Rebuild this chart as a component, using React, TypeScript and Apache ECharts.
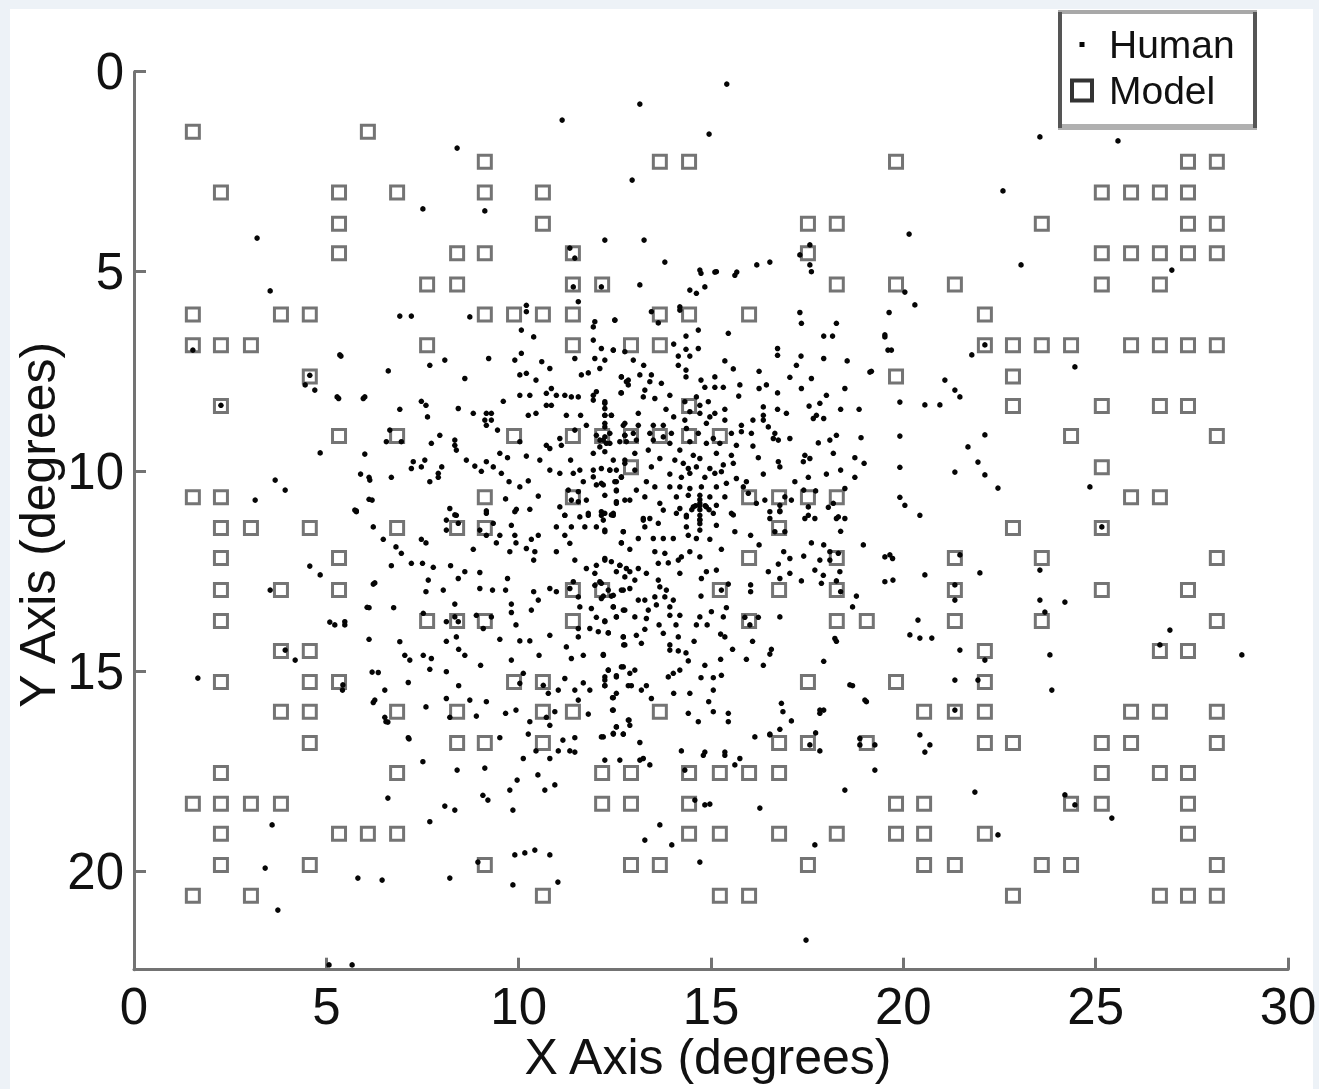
import React, { useEffect, useRef } from "react";
import * as echarts from "echarts";

const xTicks = [0, 5, 10, 15, 20, 25, 30];
const yTicks = [0, 5, 10, 15, 20];

// Model fixations: each row is [y, x, x, x...]
const modelRows: number[][] = [
  [1.5, 1.53, 6.08],
  [2.25, 9.12, 13.67, 14.43, 19.81, 27.4, 28.15],
  [3.02, 2.26, 5.33, 6.84, 9.12, 10.63, 25.16, 25.92, 26.67, 27.4],
  [3.8, 5.33, 10.63, 17.52, 18.27, 23.6, 27.4, 28.15],
  [4.54, 5.33, 8.4, 9.12, 11.41, 17.52, 25.16, 25.92, 26.67, 27.4, 28.15],
  [5.32, 7.62, 8.4, 11.41, 12.17, 18.27, 19.81, 21.34, 25.16, 26.67],
  [6.07, 1.53, 3.82, 4.57, 9.12, 9.88, 10.63, 11.41, 13.67, 14.43, 15.99, 22.12],
  [6.84, 1.53, 2.26, 3.04, 7.62, 11.41, 12.92, 13.67, 22.12, 22.85, 23.6, 24.36, 25.92, 26.67, 27.4, 28.15],
  [7.62, 4.57, 19.81, 22.85],
  [8.36, 2.26, 14.43, 22.85, 25.16, 26.67, 27.4],
  [9.11, 5.33, 6.84, 9.88, 11.41, 12.17, 12.92, 13.67, 14.43, 15.23, 24.36, 28.15],
  [9.89, 12.92, 25.16],
  [10.64, 1.53, 2.26, 9.12, 11.41, 15.99, 16.77, 17.52, 18.27, 25.92, 26.67],
  [11.41, 2.26, 3.04, 4.57, 6.84, 8.4, 9.12, 16.77, 22.85, 25.16],
  [12.16, 2.26, 5.33, 15.99, 18.27, 21.34, 23.6, 28.15],
  [12.96, 2.26, 3.82, 5.33, 11.41, 12.17, 15.23, 16.77, 18.27, 21.34, 25.16, 27.4],
  [13.73, 2.26, 7.62, 8.4, 9.12, 11.41, 15.99, 18.27, 19.05, 21.34, 23.6, 28.15],
  [14.48, 3.82, 4.57, 22.12, 26.67, 27.4],
  [15.26, 2.26, 4.57, 5.33, 9.88, 10.63, 17.52, 19.81, 22.12],
  [16.0, 3.82, 4.57, 6.84, 8.4, 10.63, 11.41, 13.67, 20.54, 21.34, 22.12, 25.92, 26.67, 28.15],
  [16.78, 4.57, 8.4, 9.12, 10.63, 16.77, 17.52, 19.05, 22.12, 22.85, 25.16, 25.92, 28.15],
  [17.53, 2.26, 6.84, 12.17, 12.92, 14.43, 15.23, 15.99, 16.77, 25.16, 26.67, 27.4],
  [18.3, 1.53, 2.26, 3.04, 3.82, 12.17, 12.92, 14.43, 19.81, 20.54, 24.36, 25.16, 27.4],
  [19.05, 2.26, 5.33, 6.08, 6.84, 14.43, 15.23, 16.77, 18.27, 19.81, 20.54, 22.12, 27.4],
  [19.83, 2.26, 4.57, 9.12, 12.92, 13.67, 17.52, 20.54, 21.34, 23.6, 24.36, 28.15],
  [20.6, 1.53, 3.04, 10.63, 15.23, 15.99, 22.85, 26.67, 27.4, 28.15],
];

// Human fixations, [x, y] in degrees, region by region
const humanUpperLeft: number[][] = [
[11.42,5.38],[12.15,5.38],[10.2,5.84],[10.2,6.0],[11.55,5.75],[8.73,6.13],[6.91,6.11],[7.21,6.11],[11.98,6.25],[11.94,6.38],[12.5,6.21],[10.07,6.46],[10.39,6.63],[11.94,6.71],[12.15,6.92],[12.46,6.96],[12.76,7.0],[5.38,7.11],[10.07,7.04],[9.9,7.21],[8.08,7.21],[9.22,7.17],[7.69,7.34],[11.46,7.17],[11.98,7.17],[12.24,7.21],[10.6,7.25],[10.81,7.42],[6.61,7.48],[11.81,7.53],[11.63,7.58],[12.11,7.42],[8.6,7.67],[10.03,7.58],[10.2,7.54],[10.45,7.71],[12.67,7.63],[12.8,7.75],[5.32,8.17],[5.96,8.17],[7.47,8.24],[7.59,8.34],[6.91,8.44],[8.43,8.42],[7.63,8.63],[9.6,8.24],[10.03,8.09],[10.29,8.09],[10.72,8.04],[10.85,7.92],[10.98,8.09],[11.2,8.09],[11.37,8.13],[11.55,8.13],[11.94,8.09],[12.02,8.0],[11.94,8.21],[12.67,8.03],[12.24,8.25],[12.24,8.42],[10.72,8.34],[10.85,8.34],[8.82,8.54],[9.16,8.54],[9.29,8.54],[9.12,8.71],[9.29,8.71],[9.16,8.84],[10.25,8.59],[10.45,8.54],[11.24,8.59],[11.61,8.59],[12.24,8.59],[12.41,8.59],[12.24,8.79],[11.76,8.84],[12.76,8.79],[6.65,8.96],[6.56,9.25],[6.95,9.25],[9.45,8.96],[7.95,9.09],[7.73,9.29],[8.34,9.21],[8.34,9.34],[8.38,9.46],[10.03,9.25],[11.07,9.17],[11.11,9.34],[10.72,9.34],[10.81,9.42],[11.46,8.96],[12.02,9.09],[12.11,9.21],[12.24,9.13],[12.37,9.04],[12.11,9.38],[12.28,9.29],[12.24,9.5],[11.94,9.54],[12.76,9.09],[12.8,9.25],[6.0,9.56],[9.51,9.54],[9.71,9.65],[10.2,9.61],[10.55,9.71],[11.35,9.71],[8.64,9.71],[9.16,9.75],[8.86,9.86],[9.03,9.99],[9.34,9.88],[9.55,10.04],[7.26,9.75],[7.47,9.88],[7.56,9.71],[7.21,9.92],[8.0,9.88],[7.91,10.04],[5.89,10.06],[6.11,10.14],[6.69,10.14],[7.91,10.14],[7.69,10.25],[10.81,9.96],[11.07,10.04],[11.42,10.04],[11.59,9.96],[11.94,9.96],[11.94,10.13],[11.68,10.25],[12.15,9.92],[12.37,9.96],[12.54,9.96],[12.46,9.71],[12.76,9.79],[12.67,10.13],[12.15,10.29],[12.02,10.33],[12.5,10.25],[12.54,10.46],[9.75,10.25],[10.03,10.38],[10.25,10.23],[6.11,10.69],[5.78,10.98],[10.51,10.61],[9.66,10.68],[9.16,10.98],[8.21,10.92],[8.38,11.09],[9.94,10.94],[10.29,10.94],[11.07,10.88],[11.2,11.09],[11.29,10.46],[11.55,10.5],[11.37,10.71],[11.55,10.75],[11.76,10.71],[12.24,10.59],[12.54,10.75],[12.76,10.71],[11.81,11.04],[12.15,11.0],[12.46,11.04],[11.59,11.13],
];
const humanUpperRight: number[][] = [
[14.74,5.04],[15.14,5.0],[15.62,5.09],[17.61,5.0],[13.15,5.33],[14.84,5.38],[14.62,5.54],[13.45,6.0],[13.63,6.28],[12.5,6.21],[14.19,5.88],[14.19,5.96],[17.31,6.02],[17.35,6.29],[18.26,6.29],[19.63,6.02],[14.67,6.46],[14.35,6.61],[17.93,6.61],[18.16,6.61],[19.52,6.63],[15.45,6.54],[14.03,6.81],[14.35,6.94],[14.67,6.92],[16.73,6.92],[16.73,7.09],[12.46,6.96],[19.69,6.96],[12.98,7.21],[13.25,7.34],[14.15,7.11],[14.45,7.11],[14.15,7.34],[17.34,7.11],[17.22,7.34],[17.93,7.17],[18.54,7.23],[15.36,7.23],[15.58,7.43],[16.25,7.49],[19.17,7.49],[14.35,7.46],[14.35,7.63],[17.05,7.64],[17.61,7.67],[15.1,7.63],[14.74,7.71],[12.67,7.63],[12.85,7.71],[13.15,7.58],[12.85,7.83],[13.45,7.58],[13.41,7.75],[13.71,7.79],[15.1,7.89],[15.32,7.89],[14.84,7.89],[15.75,7.83],[15.72,8.11],[16.25,7.92],[16.44,7.83],[16.73,8.03],[17.35,7.92],[18.48,7.92],[12.66,8.03],[13.28,7.96],[13.24,8.13],[13.93,8.09],[13.54,8.17],[18.0,8.09],[17.83,8.29],[14.62,8.13],[14.32,8.25],[14.71,8.34],[14.93,8.25],[13.83,8.44],[14.03,8.63],[15.36,8.44],[15.1,8.54],[16.36,8.38],[16.73,8.44],[17.55,8.36],[18.37,8.44],[18.85,8.44],[16.96,8.54],[16.36,8.59],[17.74,8.59],[17.93,8.67],[17.66,8.67],[12.24,8.29],[12.24,8.59],[12.41,8.59],[13.11,8.54],[14.45,8.5],[14.71,8.54],[14.97,8.63],[14.32,8.71],[15.36,8.71],[15.79,8.84],[16.09,8.71],[16.36,8.71],[12.72,8.84],[13.11,8.84],[13.5,8.84],[13.76,8.84],[14.36,8.92],[14.88,8.79],[15.79,9.0],[15.53,9.04],[16.05,9.04],[16.49,8.88],[16.66,9.04],[17.05,9.17],[18.26,9.09],[18.9,9.15],[12.24,8.88],[12.2,9.21],[12.37,9.29],[12.76,9.09],[12.98,9.04],[13.06,9.21],[12.63,9.25],[13.41,9.04],[13.5,9.21],[13.97,9.04],[13.93,9.29],[13.76,9.13],[14.67,9.04],[14.45,9.25],[15.06,9.17],[15.23,9.29],[14.88,9.29],[16.75,9.21],[16.62,9.17],[17.79,9.28],[18.09,9.21],[15.66,9.34],[16.09,9.36],[16.23,9.65],[17.44,9.59],[17.4,9.75],[17.57,9.67],[18.18,9.54],[18.74,9.65],[18.98,9.79],[16.75,9.75],[16.79,9.88],[14.19,9.46],[13.37,9.46],[13.02,9.54],[13.67,9.67],[14.06,9.71],[14.28,9.79],[14.54,9.59],[14.71,9.67],[15.14,9.54],[15.53,9.59],[14.41,9.92],[14.62,9.88],[14.97,9.92],[15.32,9.83],[15.58,9.79],[13.45,9.88],[12.37,9.96],[13.02,9.96],[12.76,9.71],[13.93,10.06],[14.45,10.04],[15.1,10.04],[15.27,10.0],[16.36,10.06],[17.53,10.14],[18.0,10.06],[18.37,9.96],[18.74,10.14],[12.67,10.14],[13.32,10.25],[14.23,10.14],[14.84,10.14],[15.92,10.25],[15.66,10.17],[17.18,10.25],[12.2,10.33],[12.54,10.25],[12.54,10.48],[13.06,10.46],[13.54,10.38],[13.93,10.38],[14.19,10.38],[14.45,10.42],[14.75,10.38],[15.14,10.38],[15.4,10.29],[15.84,10.38],[15.97,10.54],[17.41,10.46],[17.72,10.48],[18.48,10.42],[13.28,10.63],[14.1,10.63],[14.41,10.59],[14.71,10.59],[14.97,10.63],[15.36,10.63],[16.4,10.71],[16.18,10.79],[16.92,10.63],[17.09,10.71],[16.79,10.84],[12.54,10.79],[12.89,10.71],[13.67,10.79],[14.71,10.79],[14.54,10.88],[14.88,10.88],[14.19,10.92],[15.14,10.84],[18.18,10.79],[18.05,10.89],[17.53,10.88],[16.53,11.0],[16.79,10.98],[12.24,11.04],[13.76,10.96],[14.1,11.04],[14.36,11.09],[14.71,11.09],[15.06,11.04],[15.53,11.04],[13.24,11.17],[13.41,11.17],[17.53,11.09],[18.31,11.13],
[14.71,10.7],[14.71,10.85],[14.71,10.95],[14.71,11.2],[14.71,11.3],[14.6,10.85],[14.85,10.85],[14.5,10.95],[14.95,10.95],
];
const humanLowerLeft: number[][] = [
[5.78,11.0],[8.34,11.08],[9.16,11.04],[9.9,11.0],[11.2,11.09],[11.81,11.09],[12.15,11.09],[12.46,11.09],[6.22,11.38],[8.12,11.21],[8.43,11.29],[8.12,11.46],[9.34,11.29],[8.99,11.46],[9.16,11.59],[9.81,11.34],[9.51,11.59],[10.98,11.38],[11.37,11.38],[11.72,11.38],[12.02,11.38],[12.24,11.46],[6.48,11.69],[7.47,11.69],[7.59,11.78],[6.81,11.88],[9.9,11.59],[10.33,11.69],[10.51,11.59],[11.2,11.59],[11.33,11.79],[9.42,11.78],[9.93,11.78],[12.67,11.78],[12.72,11.5],[8.82,11.94],[9.77,12.0],[10.42,12.0],[10.98,12.0],[10.2,11.92],[6.95,12.04],[6.69,12.35],[7.21,12.29],[7.5,12.29],[7.78,12.39],[8.23,12.35],[10.39,12.21],[11.46,12.21],[12.24,12.17],[12.02,12.34],[11.76,12.42],[12.41,12.25],[12.63,12.34],[12.8,12.42],[8.6,12.5],[8.43,12.67],[8.99,12.52],[9.71,12.67],[11.98,12.54],[12.54,12.5],[7.65,12.71],[6.22,12.81],[11.42,12.75],[11.33,12.92],[11.98,12.84],[12.11,12.75],[12.76,12.63],[8.99,12.92],[9.32,12.96],[9.66,12.96],[8.04,12.96],[7.59,13.0],[10.39,13.0],[10.81,12.92],[10.98,13.0],[11.55,13.13],[12.15,13.17],[12.46,13.09],[12.72,12.96],[9.81,13.31],[8.34,13.31],[10.51,13.21],[6.11,13.4],[6.75,13.4],[11.59,13.38],[11.89,13.42],[12.46,13.38],[12.76,13.46],[10.33,13.46],[9.81,13.52],[7.52,13.54],[8.34,13.63],[8.9,13.59],[9.29,13.63],[12.54,13.63],[12.02,13.64],[12.24,13.75],[5.48,13.75],[5.22,13.83],[8.12,13.75],[8.43,13.75],[9.93,13.83],[9.08,13.92],[11.55,13.92],[11.85,13.92],[12.07,14.0],[12.33,14.03],[10.81,14.09],[11.55,14.13],[12.72,14.13],[6.11,14.19],[6.91,14.25],[8.12,14.24],[8.38,14.13],[9.51,14.19],[10.03,14.23],[10.29,14.23],[12.73,14.33],[11.24,14.38],[8.44,14.44],[7.04,14.59],[7.17,14.71],[7.52,14.59],[7.73,14.67],[8.6,14.59],[9.81,14.71],[10.53,14.59],[11.37,14.67],[11.68,14.59],[12.2,14.59],[9.01,14.84],[7.69,14.94],[8.12,15.0],[6.35,15.02],[12.33,14.96],[12.72,14.88],[12.54,15.13],[12.24,15.13],[10.12,15.04],[11.2,15.17],[7.13,15.27],[8.44,15.35],[10.64,15.34],[10.77,15.54],[11.03,15.46],[11.46,15.46],[11.85,15.46],[11.68,15.28],[10.03,15.29],[5.42,15.46],[12.24,15.35],[12.85,15.35],[12.46,15.65],[11.55,15.71],[8.12,15.67],[8.73,15.71],[9.16,15.75],[6.22,15.77],[7.59,15.88],[9.93,15.96],[9.66,16.04],[10.94,16.0],[11.81,16.06],[12.46,15.96],[8.9,16.11],[8.21,16.14],[10.72,16.14],[6.55,16.25],[10.29,16.25],[12.85,16.21],[12.54,16.38],[10.25,16.56],[12.46,16.56],[12.2,16.63],[12.72,16.56],[10.81,16.34],[7.13,16.65],[9.51,16.65],[11.46,16.65],[10.45,16.98],[11.03,16.98],[11.33,16.98],[10.12,17.17],[10.81,17.17],
];
const humanLowerRight: number[][] = [
[12.41,11.08],[13.24,11.21],[13.63,11.29],[12.2,11.21],[13.28,11.38],[14.36,11.13],[14.71,11.21],[14.36,11.38],[14.71,11.46],[15.14,11.34],[15.58,11.08],[16.53,11.17],[16.79,11.0],[17.44,11.17],[17.7,11.17],[18.26,11.17],[18.48,11.17],[12.24,11.5],[12.72,11.5],[14.41,11.59],[14.62,11.67],[14.97,11.69],[15.62,11.5],[16.03,11.59],[16.66,11.5],[16.92,11.5],[18.37,11.49],[13.11,11.67],[13.5,11.67],[13.76,11.67],[14.02,11.67],[12.67,11.78],[16.25,11.83],[17.61,11.78],[17.93,11.83],[18.96,11.83],[12.89,11.94],[15.27,11.94],[16.89,12.0],[13.54,12.0],[13.8,12.04],[14.45,12.0],[18.09,12.0],[18.31,12.04],[12.24,12.21],[14.23,12.13],[14.71,12.13],[17.05,12.17],[17.41,12.11],[19.52,12.13],[19.72,12.17],[13.63,12.29],[13.89,12.28],[14.15,12.21],[17.83,12.21],[18.09,12.21],[12.63,12.34],[13.11,12.42],[16.75,12.31],[15.14,12.46],[14.88,12.5],[17.7,12.46],[12.89,12.5],[13.32,12.54],[14.19,12.54],[16.49,12.5],[17.05,12.54],[18.35,12.5],[14.75,12.67],[16.79,12.67],[17.92,12.59],[13.02,12.71],[13.63,12.71],[17.35,12.73],[17.87,12.79],[18.26,12.73],[19.52,12.75],[15.45,12.81],[15.27,12.96],[16.03,12.83],[16.03,13.0],[12.15,12.79],[12.33,12.96],[12.67,12.96],[12.89,12.92],[13.67,12.88],[13.84,12.96],[12.2,13.11],[12.41,13.11],[13.54,13.13],[13.8,13.13],[14.02,13.21],[14.74,13.11],[18.37,13.0],[18.78,13.11],[13.11,13.21],[13.28,13.21],[13.58,13.33],[12.46,13.38],[12.72,13.46],[13.93,13.38],[15.4,13.4],[15.01,13.5],[18.68,13.38],[13.37,13.46],[14.19,13.59],[13.93,13.59],[12.54,13.63],[13.02,13.63],[13.32,13.67],[14.71,13.63],[15.32,13.63],[15.88,13.64],[16.23,13.64],[16.79,13.63],[12.24,13.73],[13.65,13.83],[14.09,13.83],[14.62,13.83],[14.9,13.83],[16.01,13.83],[13.28,13.94],[12.33,14.03],[13.76,14.04],[15.25,14.06],[15.36,14.13],[14.15,14.13],[14.56,14.24],[16.08,14.24],[18.22,14.17],[18.26,14.24],[12.72,14.13],[13.06,14.09],[12.76,14.33],[13.19,14.29],[13.93,14.33],[15.56,14.44],[16.57,14.44],[13.93,14.46],[14.15,14.48],[14.35,14.53],[12.2,14.57],[16.53,14.56],[15.25,14.69],[14.41,14.73],[15.92,14.69],[17.93,14.74],[14.84,14.84],[16.36,14.84],[12.67,14.88],[12.33,14.96],[13.02,14.96],[14.19,14.96],[14.02,15.04],[13.89,15.13],[15.27,15.09],[12.54,15.1],[12.89,15.04],[12.24,15.21],[14.74,15.15],[15.06,15.15],[12.24,15.35],[12.93,15.35],[13.32,15.35],[13.19,15.46],[18.68,15.35],[14.03,15.54],[14.45,15.54],[15.06,15.46],[12.54,15.54],[12.44,15.65],[13.45,15.67],[14.94,15.75],[16.83,15.79],[19.04,15.75],[12.44,15.96],[14.41,16.04],[15.06,16.0],[15.45,16.04],[17.93,15.96],[17.83,16.04],[12.87,16.21],[14.67,16.25],[15.45,16.25],[17.09,16.23],[12.89,16.34],[12.54,16.38],[12.46,16.54],[12.72,16.56],[12.15,16.63],[16.14,16.63],[16.53,16.56],[16.79,16.44],[17.72,16.53],[18.87,16.67],[13.15,16.77],[14.23,16.98],[14.8,17.09],[15.36,17.09],[17.83,16.98],[13.24,17.17],[15.75,17.17],
];
const humanOuter: number[][] = [
[13.15,0.81],[15.41,0.31],[11.13,1.21],[14.95,1.56],[8.4,1.91],[23.55,1.63],[25.58,1.73],[12.95,2.71],[22.59,2.98],[7.51,3.43],[9.12,3.48],[3.2,4.16],[12.24,4.21],[13.26,4.21],[20.15,4.06],[23.06,4.83],[3.54,5.48],[11.33,4.41],[11.46,4.66],[13.8,4.76],[17.57,4.33],[17.31,4.58],[17.57,4.83],[14.71,4.96],[15.1,5.01],[15.67,5.01],[16.19,4.83],[16.53,4.76],[14.45,5.46],[20.04,5.51],[20.3,5.83],[26.98,4.96],[5.35,7.08],[4.45,7.83],[4.7,7.96],[5.28,8.13],[6.0,8.13],[24.46,7.38],[21.78,7.08],[22.12,6.83],[19.52,6.58],[19.6,6.96],[19.13,7.51],[21.08,7.71],[21.34,7.96],[21.47,8.13],[19.91,8.26],[20.56,8.33],[20.95,8.33],[19.91,9.11],[22.12,9.08],[21.68,9.38],[21.34,10.01],[21.94,9.76],[22.12,10.08],[22.46,10.41],[19.91,9.89],[19.91,10.64],[20.04,10.84],[20.43,11.09],[24.85,10.38],[25.16,11.38],[3.15,10.71],[3.67,10.21],[3.93,10.46],[4.84,9.53],[5.74,10.96],[6.13,10.21],[6.19,10.71],[4.57,12.36],[4.84,12.58],[6.26,12.78],[3.54,12.96],[6.06,13.39],[5.09,13.76],[5.48,13.83],[3.93,14.46],[4.19,14.71],[1.66,15.16],[5.43,15.33],[6.19,15.01],[6.52,15.46],[6.52,16.14],[6.26,15.71],[6.6,16.26],[7.15,16.68],[7.51,17.25],[6.6,18.16],[3.59,18.83],[7.69,18.75],[8.08,18.36],[8.34,18.46],[8.4,17.46],[9.12,17.41],[9.07,18.09],[9.2,18.21],[9.77,17.96],[9.96,17.71],[9.85,18.46],[10.5,17.58],[10.68,17.96],[10.94,17.83],[11.15,16.71],[11.46,17.01],[12.24,17.21],[12.63,17.21],[13.15,17.21],[13.41,17.33],[14.32,17.46],[14.58,18.21],[14.97,18.31],[14.84,17.01],[15.36,17.01],[15.62,17.33],[16.27,18.41],[13.28,19.21],[13.67,18.83],[13.98,19.33],[14.71,19.76],[9.9,19.58],[10.16,19.53],[10.42,19.46],[10.81,19.58],[11.02,20.26],[9.85,20.33],[8.94,19.76],[8.21,20.16],[5.82,20.16],[6.45,20.21],[3.41,19.91],[3.74,20.96],[5.67,22.33],[5.07,22.33],[17.47,21.71],[17.7,19.33],[18.48,17.96],[19.26,17.46],[18.61,15.33],[19.0,15.71],[17.83,15.96],[16.87,16.0],[17.57,16.83],[16.53,16.58],[18.87,16.83],[19.26,16.83],[20.43,16.58],[20.69,16.83],[20.56,17.01],[21.34,15.21],[21.94,15.21],[22.12,14.71],[21.34,15.96],[21.47,14.46],[20.17,14.08],[20.43,14.16],[20.74,14.16],[20.38,13.71],[21.34,12.83],[21.34,13.21],[20.56,12.58],[19.65,12.08],[19.73,12.71],[21.99,12.53],[21.47,12.08],[23.55,12.46],[23.55,13.21],[23.68,13.51],[24.2,13.26],[23.81,14.58],[23.86,15.46],[26.67,14.33],[26.93,13.96],[28.8,14.58],[22.46,19.08],[21.86,18.01],[24.2,18.08],[24.46,18.33],[25.42,18.66],[14.84,18.33],[1.53,6.96],[2.26,8.34],[4.57,7.59],
];

const FONT = '"Liberation Sans", Arial, sans-serif';
const INK = "#111111";

export default function App() {
  const ref = useRef<HTMLDivElement>(null);
  useEffect(() => {
    document.body.style.margin = "0";
    document.body.style.background = "#edf2f7";
    const chart = echarts.init(ref.current!, undefined, { renderer: "svg" });
    const modelData: number[][] = [];
    modelRows.forEach((r) => r.slice(1).forEach((x) => modelData.push([x, r[0]])));
    const humanData = [...humanUpperLeft, ...humanUpperRight, ...humanLowerLeft, ...humanLowerRight, ...humanOuter];
    const axisLine = { show: true, onZero: false, lineStyle: { color: "#737373", width: 3 } };
    const axisTick = { inside: true, length: 12, lineStyle: { color: "#737373", width: 3 } };
    chart.setOption({
      animation: false,
      backgroundColor: "transparent",
      textStyle: { fontFamily: FONT },
      grid: { left: 134, top: 71.7, width: 1154, height: 898, outerBoundsMode: "none", containLabel: false },
      xAxis: {
        type: "value", position: "bottom", min: 0, max: 30, interval: 5, splitLine: { show: false },
        axisLine, axisTick,
        axisLabel: { color: INK, fontSize: 51, margin: 11, fontFamily: FONT, customValues: xTicks },
        name: "X Axis (degrees)", nameLocation: "middle", nameGap: 62, nameMoveOverlap: false,
        nameTextStyle: { color: INK, fontSize: 50, fontFamily: FONT, padding: [0, 6, 0, 0] },
      },
      yAxis: {
        type: "value", inverse: true, min: 0, max: 22.45, splitLine: { show: false },
        axisLine,
        axisTick: { ...axisTick, customValues: yTicks },
        axisLabel: { color: INK, fontSize: 51, margin: 10, fontFamily: FONT, customValues: yTicks },
        name: "Y Axis (degrees)", nameLocation: "middle", nameGap: 71, nameMoveOverlap: false,
        nameTextStyle: { color: INK, fontSize: 50, fontFamily: FONT, padding: [0, 8, 0, 0] },
      },
      legend: {
        show: true, orient: "vertical", left: 1057, top: 11,
        padding: [14, 22, 17, 13], itemGap: 7, itemWidth: 20, itemHeight: 20,
        selectedMode: false, backgroundColor: "#fff",
        textStyle: { color: INK, fontSize: 39, fontFamily: FONT, padding: [0, 0, 0, 12] },
        data: [
          { name: "Human", icon: "path://M0 0M20 20M7.5 7.5h5v5h-5z" },
          { name: "Model", icon: "rect", itemStyle: { color: "#ffffff", borderColor: "#333333", borderWidth: 4 } },
        ],
      },
      series: [
        {
          name: "Model", type: "scatter", symbol: "rect", symbolSize: 13, z: 2,
          itemStyle: { color: "transparent", borderColor: "#747474", borderWidth: 3, opacity: 1 },
          data: modelData,
        },
        {
          name: "Human", type: "scatter", symbol: "circle", symbolSize: 5.5, z: 3,
          itemStyle: { color: "#050505", opacity: 1 },
          data: humanData,
        },
      ],
      graphic: [
        { type: "rect", z: 100, silent: true, shape: { x: 1058, y: 10, width: 199, height: 4 }, style: { fill: "#a8a8a8" } },
        { type: "rect", z: 100, silent: true, shape: { x: 1058, y: 124, width: 199, height: 6 }, style: { fill: "#b0b0b0" } },
        { type: "rect", z: 101, silent: true, shape: { x: 1058, y: 12, width: 4, height: 116 }, style: { fill: "#555555" } },
        { type: "rect", z: 101, silent: true, shape: { x: 1253, y: 12, width: 4, height: 116 }, style: { fill: "#555555" } },
      ],
    });
    return () => chart.dispose();
  }, []);
  return (
    <div style={{ position: "absolute", left: 0, top: 0, width: 1319, height: 1089, background: "#edf2f7", overflow: "hidden" }}>
      <div style={{ position: "absolute", left: 10, top: 9, width: 1303, height: 1080, background: "#ffffff" }} />
      <div ref={ref} style={{ position: "absolute", left: 0, top: 0, width: 1319, height: 1089, filter: "blur(0.7px)" }} />
    </div>
  );
}
